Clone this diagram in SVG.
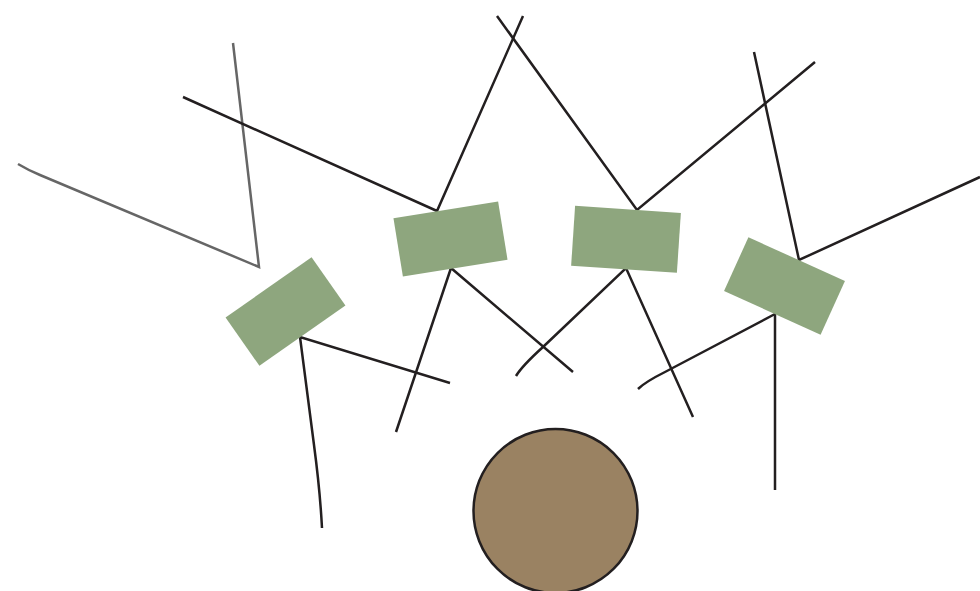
<svg xmlns="http://www.w3.org/2000/svg" width="980" height="591" viewBox="0 0 980 591">
<style>
.ln{fill:none;stroke:#231f20;stroke-width:2.5;stroke-linecap:butt;stroke-linejoin:miter}
.gr{fill:none;stroke:#666;stroke-width:2.5}
.leaf{fill:#8ea67e}
.ball{fill:#9a8262;stroke:#231f20;stroke-width:2.5}
</style>
<rect width="980" height="591" fill="#fff"/>
<g id="connectors">
<path class="gr" d="M18,164 Q28,170 40,175 L259,267 L233,43"/>
<path class="ln" d="M183,97 L437,211 L523,16"/>
<path class="ln" d="M497,16 L637,210 L815,62"/>
<path class="ln" d="M754,52 L799,260 L980,177"/>
<path class="ln" d="M450,383 L300,337 L314,445 Q320,490 322,528"/>
<path class="ln" d="M396,432 L451,268 L573,372"/>
<path class="ln" d="M516,376 Q522,366 543,347 L626,268 L693,417"/>
<path class="ln" d="M638,389 Q645,382 665,372 L775,314 L775,490"/>
</g>
<g id="leaf1"><rect class="leaf" x="-52.5" y="-29.5" width="105" height="59" transform="translate(285.5,311.5) rotate(-35)"/></g>
<g id="leaf2"><rect class="leaf" x="-53" y="-29.5" width="106" height="59" transform="translate(450.5,239) rotate(-9.2)"/></g>
<g id="leaf3"><rect class="leaf" x="-53" y="-30" width="106" height="60" transform="translate(626,239.3) rotate(3.8)"/></g>
<g id="leaf4"><rect class="leaf" x="-53" y="-29.5" width="106" height="59" transform="translate(784.5,286) rotate(24.4)"/></g>
<g id="ball"><circle class="ball" cx="555.5" cy="511" r="82"/></g>
</svg>
